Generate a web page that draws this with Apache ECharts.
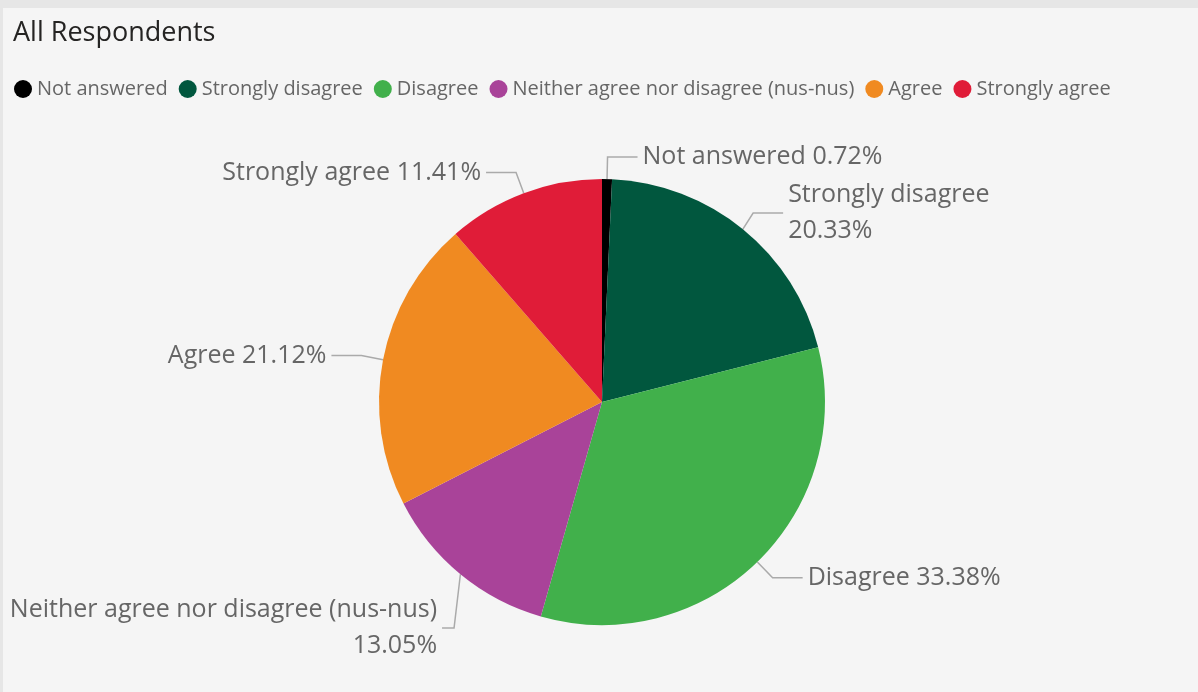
<!DOCTYPE html>
<html>
<head>
<meta charset="utf-8">
<script src="https://cdn.jsdelivr.net/npm/echarts@6/dist/echarts.min.js"></script>
<style>
  html, body { margin: 0; padding: 0; background: #e6e6e6; width: 1198px; height: 692px; overflow: hidden; }
  #chart { position: absolute; left: 3px; top: 8px; width: 1195px; height: 684px; }
</style>
</head>
<body>
<div id="chart"></div>
<script>
// Survey answers, share of all respondents (%)
const categories = ['Not answered', 'Strongly disagree', 'Disagree', 'Neither agree nor disagree (nus-nus)', 'Agree', 'Strongly agree'];
const shares = [0.72, 20.33, 33.38, 13.05, 21.12, 11.41];
const colors = ['#000000', '#01573e', '#41b04b', '#a94399', '#f08a21', '#e01c38'];
// long labels are put on two lines
const wrapped = ['Strongly disagree', 'Neither agree nor disagree (nus-nus)'];
// the long lower-left label sits close to the pie and is dropped a little
const tightLabel = 'Neither agree nor disagree (nus-nus)';
const tightDrop = 46;

const FONT = '"Segoe UI", "Open Sans", "Noto Sans", sans-serif';

const chart = echarts.init(document.getElementById('chart'), null, { renderer: 'canvas' });

chart.setOption({
  backgroundColor: '#f5f5f5',
  animation: false,
  color: colors,
  title: {
    text: 'All Respondents',
    left: 5,
    top: 7,
    textStyle: { fontFamily: FONT, fontSize: 27, fontWeight: 'normal', color: '#252423' }
  },
  legend: {
    left: 6,
    top: 66,
    icon: 'circle',
    itemWidth: 18,
    itemHeight: 18,
    itemGap: 11,
    textStyle: { fontFamily: FONT, fontSize: 20, color: '#666666' },
    data: categories
  },
  series: [{
    type: 'pie',
    center: [599, 394],
    radius: 223,
    startAngle: 90,
    clockwise: true,
    avoidLabelOverlap: true,
    label: {
      show: true,
      position: 'outside',
      overflow: 'none',
      fontFamily: FONT,
      fontSize: 25,
      color: '#666666',
      lineHeight: 36,
      formatter: p => wrapped.includes(p.name)
        ? p.name + '\n' + p.value.toFixed(2) + '%'
        : p.name + ' ' + p.value.toFixed(2) + '%'
    },
    labelLine: {
      show: true,
      length: 22,
      length2: 30,
      lineStyle: { color: '#aaaaaa', width: 1.5 }
    },
    // drop the lower-left label and bend its guide line down with it
    labelLayout: p => {
      if (p.dataIndex !== categories.indexOf(tightLabel) || !p.labelLinePoints) return {};
      const pts = p.labelLinePoints;
      return {
        dy: tightDrop,
        labelLinePoints: [
          [pts[0][0], pts[0][1]],
          [pts[1][0], pts[1][1] + tightDrop],
          [pts[2][0], pts[2][1] + tightDrop]
        ]
      };
    },
    emphasis: { disabled: true },
    data: categories.map((c, i) => c === tightLabel
      ? { name: c, value: shares[i], labelLine: { length: 10, length2: 12 } }
      : { name: c, value: shares[i] })
  }]
});
</script>
</body>
</html>
